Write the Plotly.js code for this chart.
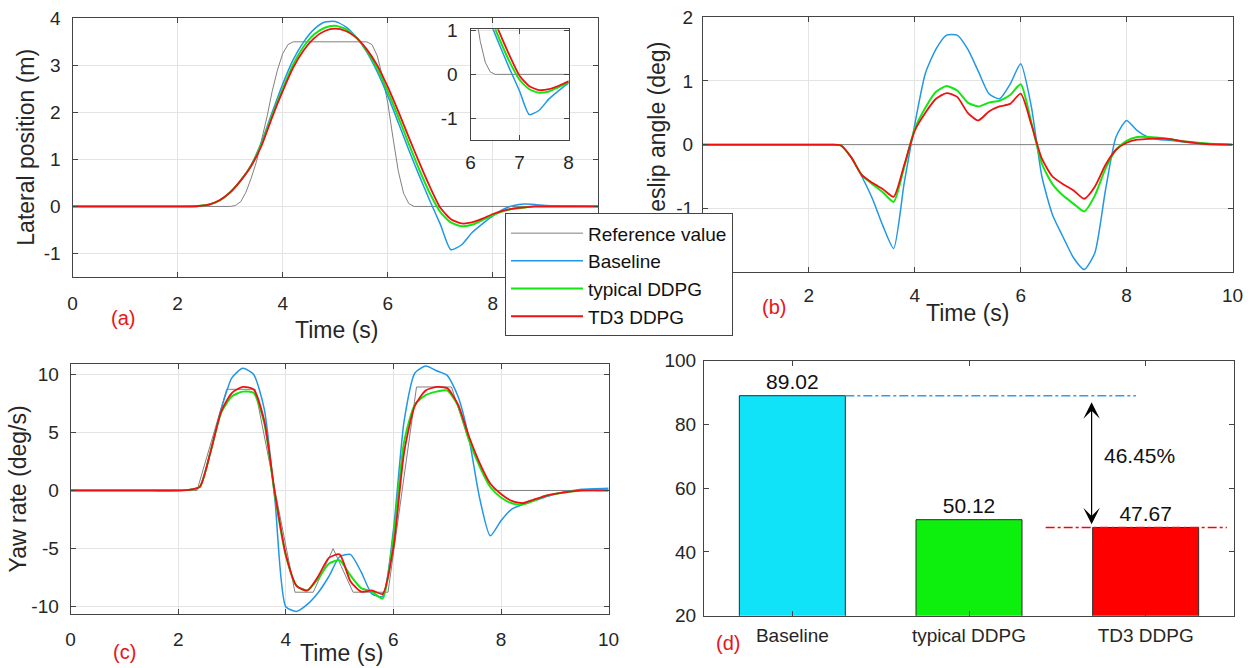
<!DOCTYPE html>
<html><head><meta charset="utf-8">
<script src="https://cdn.plot.ly/plotly-3.0.1.min.js"></script>
<style>html,body{margin:0;padding:0;background:#fff;} #chart{width:1255px;height:668px;}</style>
</head><body><div id="chart"></div>
<script>
// ---------- data ----------
const seriesNames = ['Reference value', 'Baseline', 'typical DDPG', 'TD3 DDPG'];
const time = [0,0.5,1,1.5,2,2.2,2.4,2.6,2.8,3,3.2,3.4,3.6,3.8,4,4.2,4.4,4.6,4.8,5,5.2,5.4,5.6,5.8,6,6.2,6.4,6.6,6.8,7,7.2,7.4,7.6,7.8,8,8.2,8.4,8.6,8.8,9,9.5,10];

// (a) lateral position (m)
const refTimeA = [0,3.0,3.1,3.2,3.3,3.4,3.5,3.6,3.7,3.8,3.9,4.0,4.1,4.2,5.6,5.7,5.8,5.9,6.0,6.1,6.2,6.3,6.4,6.5,10];
const refLat   = [0,0,0.02,0.1,0.3,0.6,0.95,1.4,1.9,2.45,2.9,3.25,3.44,3.5,3.5,3.44,3.2,2.75,2.2,1.45,0.75,0.28,0.06,0,0];
const latBase = [0,0,0,0,0,0,0.01,0.04,0.13,0.3,0.55,0.88,1.38,2.0,2.6,3.12,3.5,3.77,3.92,3.93,3.82,3.6,3.28,2.86,2.35,1.78,1.2,0.65,0.12,-0.38,-0.92,-0.82,-0.56,-0.37,-0.2,-0.06,0.02,0.05,0.04,0.02,0.01,0];
const latTyp  = [0,0,0,0,0,0,0.01,0.04,0.13,0.3,0.55,0.87,1.34,1.94,2.5,3.02,3.4,3.66,3.8,3.84,3.77,3.59,3.31,2.93,2.44,1.9,1.33,0.78,0.28,-0.12,-0.34,-0.42,-0.39,-0.29,-0.19,-0.1,-0.05,-0.02,0,0,0,0];
const latTd3  = [0,0,0,0,0,0,0.01,0.04,0.13,0.3,0.55,0.86,1.3,1.9,2.45,2.95,3.32,3.58,3.73,3.78,3.73,3.59,3.34,3.0,2.54,2.02,1.47,0.93,0.42,-0.03,-0.27,-0.36,-0.34,-0.26,-0.16,-0.09,-0.04,-0.02,0,0,0,0];

// (b) sideslip angle (deg)
const refTimeB = [0,10];
const refSlip  = [0,0];
const slipBase = [0,0,0,0,0,0,0,-0.01,-0.2,-0.5,-0.85,-1.28,-1.63,-0.6,0.32,1.12,1.5,1.72,1.72,1.5,1.15,0.8,0.72,0.95,1.27,0.6,-0.5,-1.1,-1.45,-1.78,-1.96,-1.7,-0.72,0.12,0.38,0.22,0.12,0.08,0.07,0.05,0.02,0];
const slipTyp  = [0,0,0,0,0,0,0,-0.01,-0.2,-0.48,-0.62,-0.75,-0.9,-0.35,0.25,0.58,0.83,0.92,0.85,0.66,0.6,0.66,0.69,0.78,0.95,0.35,-0.3,-0.62,-0.8,-0.93,-1.05,-0.8,-0.38,-0.08,0.06,0.12,0.12,0.11,0.09,0.06,0.02,0];
const slipTd3  = [0,0,0,0,0,0,0,-0.01,-0.2,-0.48,-0.6,-0.7,-0.82,-0.32,0.22,0.5,0.72,0.81,0.75,0.5,0.38,0.52,0.6,0.64,0.8,0.32,-0.22,-0.5,-0.62,-0.72,-0.85,-0.66,-0.32,-0.08,0.03,0.08,0.09,0.1,0.09,0.06,0.01,0];

// (c) yaw rate (deg/s)
const refTimeC = [0,2.35,2.9,3.43,4.17,4.51,4.88,5.25,5.9,6.43,7.08,7.24,7.4,7.7,7.9,10];
const refYaw   = [0,0,8.7,8.7,-8.75,-8.75,-5.0,-8.75,-8.75,8.9,8.9,6.6,4.3,1.15,0,0];
const yawBase = [0,0,0,0,0,0.05,0.3,3.3,7.0,9.7,10.5,10.0,7.0,-0.9,-10.0,-10.4,-9.8,-8.8,-7.4,-5.7,-5.5,-7.0,-8.9,-9.1,-3.4,6.0,10.1,10.7,10.3,9.9,8.1,4.6,-0.6,-3.9,-2.6,-1.6,-1.2,-0.9,-0.6,-0.3,0.1,0.2];
const yawTyp  = [0,0,0,0,0,0.05,0.3,3.3,6.7,8.1,8.5,8.4,5.8,-0.5,-5.6,-8.2,-8.6,-7.6,-6.3,-6.0,-7.3,-8.4,-8.7,-9.3,-4.0,4.2,7.4,8.2,8.5,8.6,7.3,4.4,2.1,0.3,-0.6,-1.1,-1.2,-0.9,-0.5,-0.3,0,0];
const yawTd3  = [0,0,0,0,0,0.05,0.3,3.3,6.8,8.4,8.9,8.7,6.0,-0.3,-5.5,-8.2,-8.6,-7.4,-5.8,-5.5,-7.8,-8.7,-8.6,-8.9,-4.9,3.3,7.3,8.6,8.9,8.8,7.4,4.7,2.4,0.6,-0.3,-0.9,-1.1,-0.8,-0.5,-0.3,0,0];

// (d) bar chart
const methods = ['Baseline', 'typical DDPG', 'TD3 DDPG'];
const scores  = [89.02, 50.12, 47.67];

// tick values (labels hidden under the legend in the reference are left out)
const ticksLatX  = [0, 2, 4, 6, 8];
const ticksLatY  = [-1, 0, 1, 2, 3, 4];
const ticksSlipX = [2, 4, 6, 8, 10];
const ticksSlipY = [-1, 0, 1, 2];
const ticksYawX  = [0, 2, 4, 6, 8, 10];
const ticksYawY  = [-10, -5, 0, 5, 10];
const ticksBarY  = [20, 40, 60, 80, 100];
const ticksInsX  = [6, 7, 8];
const ticksInsY  = [-1, 0, 1];

// ---------- styling ----------
const W = 1255, H = 668;
const FONT = 'Liberation Sans, Arial, Helvetica, sans-serif';
const colors = ['#808080', '#2197e6', '#14e614', '#ee1111'];
const widths = [1, 1.5, 2, 1.8];
const barColors = ['#10e2f8', '#0df00d', '#ff0000'];
const fx = p => p / W;           // pixel -> paper x
const fy = p => 1 - p / H;       // pixel -> paper y

function group(xa, ya, refT, refV, vals, legend) {
  const out = [];
  out.push({type:'scatter', mode:'lines', x:refT, y:refV, xaxis:xa, yaxis:ya,
            name:seriesNames[0], showlegend:legend, legendrank:1,
            line:{color:colors[0], width:widths[0]}, hoverinfo:'skip'});
  vals.forEach((v, i) => out.push({type:'scatter', mode:'lines', x:time, y:v, xaxis:xa, yaxis:ya,
            name:seriesNames[i+1], showlegend:legend, legendrank:i+2,
            line:{color:colors[i+1], width:widths[i+1], shape:'spline', smoothing:0.6}, hoverinfo:'skip'}));
  return out;
}

const traces = [].concat(
  group('x',  'y',  refTimeA, refLat,  [latBase, latTyp, latTd3],   true),
  group('x2', 'y2', refTimeB, refSlip, [slipBase, slipTyp, slipTd3], false),
  group('x3', 'y3', refTimeC, refYaw,  [yawBase, yawTyp, yawTd3],   false),
  group('x5', 'y5', refTimeA, refLat,  [latBase, latTyp, latTd3],   false),
  [{type:'bar', x:methods.map((m, i) => i), y:scores, xaxis:'x4', yaxis:'y4', width:0.6,
    marker:{color:barColors, line:{color:'#2a2a2a', width:1}},
    text:scores.map(s => s.toFixed(2)), textposition:'outside', cliponaxis:false,
    textfont:{size:21, color:'#111', family:FONT}, showlegend:false, hoverinfo:'skip'}]
);

const base = {showline:true, linecolor:'#444', linewidth:1, mirror:'ticks', ticks:'inside', ticklen:5,
              tickcolor:'#444', tickfont:{size:19, color:'#262626', family:FONT},
              showgrid:true, gridcolor:'#e4e4e4', gridwidth:1, zeroline:false, fixedrange:true};
// ticks with plain hyphen minus signs, as in the reference
const ax = (vals, o) => Object.assign({}, base, {tickmode:'array', tickvals:vals, ticktext:vals.map(String)}, o);

const improve = ((scores[0] - scores[2]) / scores[0] * 100).toFixed(2) + '%';
const barHalf = 0.3;

function label(text, xp, yp, size, color, angle) {
  return {text:text, xref:'paper', yref:'paper', x:fx(xp), y:fy(yp), xanchor:'center', yanchor:'middle',
          textangle:angle || 0, showarrow:false, font:{size:size, color:color || '#262626'}};
}

const layout = {
  width:W, height:H, margin:{l:0, r:0, t:0, b:0}, paper_bgcolor:'#fff', plot_bgcolor:'#fff',
  font:{family:FONT, color:'#262626'}, showlegend:true,
  xaxis:  ax(ticksLatX,  {domain:[fx(72.5), fx(598)], range:[0,10], anchor:'y', ticklabelstandoff:9}),
  yaxis:  ax(ticksLatY,  {domain:[fy(277), fy(18.3)], range:[-1.5,4], anchor:'x', ticklabelstandoff:7}),
  xaxis2: ax(ticksSlipX, {domain:[fx(703), fx(1232.5)], range:[0,10], anchor:'y2', ticklabelstandoff:6}),
  yaxis2: ax(ticksSlipY, {domain:[fy(272), fy(17.3)], range:[-2,2], anchor:'x2', ticklabelstandoff:5}),
  xaxis3: ax(ticksYawX,  {domain:[fx(70.6), fx(608.6)], range:[0,10], anchor:'y3', ticklabelstandoff:8}),
  yaxis3: ax(ticksYawY,  {domain:[fy(614.3), fy(364.3)], range:[-10.65,10.85], anchor:'x3', ticklabelstandoff:7}),
  xaxis4: Object.assign({}, base, {domain:[fx(704), fx(1234)], range:[-0.5,2.5], tickmode:'array',
              tickvals:methods.map((m,i)=>i), ticktext:methods, anchor:'y4', showgrid:false, ticklabelstandoff:2}),
  yaxis4: ax(ticksBarY,  {domain:[fy(615.7), fy(360.7)], range:[20,100], anchor:'x4', showgrid:false, ticklabelstandoff:3}),
  xaxis5: ax(ticksInsX,  {domain:[fx(470.5), fx(568.6)], range:[6,8], anchor:'y5', ticklabelstandoff:5}),
  yaxis5: ax(ticksInsY,  {domain:[fy(140), fy(29.3)], range:[-1.5,1.03], anchor:'x5', ticklabelstandoff:8}),
  legend:{x:fx(505), y:fy(213.3), xanchor:'left', yanchor:'top', bgcolor:'#fff', bordercolor:'#444', borderwidth:1,
          font:{size:19, color:'#111', family:FONT}, itemwidth:72, tracegroupgap:0, traceorder:'normal'},
  shapes:[
    {type:'line', xref:'x4', yref:'y4', x0:0 + barHalf, x1:1.945, y0:scores[0], y1:scores[0],
     line:{color:'#2e9cf0', width:1.4, dash:'dashdot'}},
    {type:'line', xref:'x4', yref:'y4', x0:1.434, x1:2.46, y0:scores[2], y1:scores[2],
     line:{color:'#ff0000', width:1.6, dash:'dashdot'}}
  ],
  annotations:[
    // axis titles
    label('Time (s)', 336, 330, 23),
    label('Lateral position (m)', 25.7, 147, 23, null, -90),
    label('Time (s)', 967.5, 313, 23),
    label('Sideslip angle (deg)', 657, 144, 23, null, -90),
    label('Time (s)', 341, 653, 23),
    label('Yaw rate (deg/s)', 18.4, 489, 23, null, -90),
    // panel labels
    label('(a)', 122.6, 318, 20, '#e8141a'),
    label('(b)', 774, 307, 20, '#e8141a'),
    label('(c)', 124.5, 651.7, 20, '#e8141a'),
    label('(d)', 728, 643, 20, '#e8141a'),
    // reduction percentage and arrow
    {text:improve, xref:'x4', yref:'y4', x:1.75, y:70.4, xanchor:'left', yanchor:'middle', showarrow:false, font:{size:21, color:'#111'}},
    {text:'', xref:'x4', yref:'y4', axref:'x4', ayref:'y4', x:1.694, y:scores[2] + 1.0, ax:1.694, ay:scores[0] - 1.6,
     showarrow:true, arrowside:'end+start', arrowhead:3, startarrowhead:3, arrowsize:2.3, startarrowsize:2.3,
     arrowwidth:1.2, arrowcolor:'#000', standoff:0, startstandoff:0}
  ]
};

const gd = document.getElementById('chart');
Plotly.newPlot(gd, traces, layout, {staticPlot:true, displayModeBar:false}).then(() => {
  // keep the legend box above the (b) axis title, as in the reference
  const leg = gd.querySelector('.infolayer .legend');
  if (leg) leg.parentNode.appendChild(leg);
});
</script>
</body></html>
